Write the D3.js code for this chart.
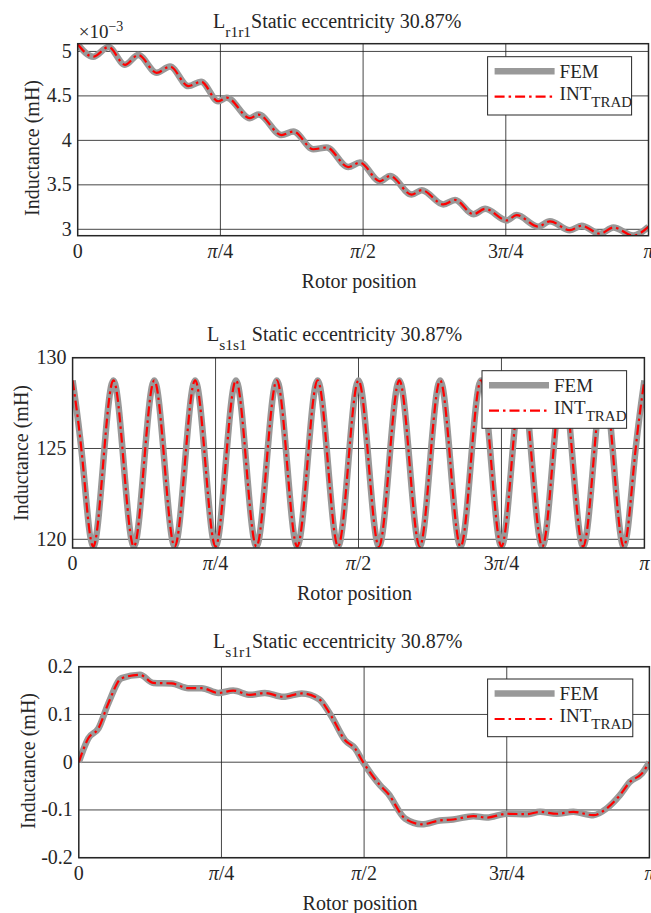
<!DOCTYPE html>
<html lang="en">
<head>
<meta charset="UTF-8">
<title>Inductances - static eccentricity</title>
<script src="https://cdn.jsdelivr.net/npm/d3@7"></script>
<style>
  body { margin: 0; background: #fff; }
  svg text { font-family: "Liberation Serif", "DejaVu Serif", serif; fill: #262626; }
</style>
</head>
<body>
<svg id="fig" width="651" height="913"></svg>
<script>
// rotor position is kept in degrees (0..180 == 0..pi)
const xTicks = [0, 45, 90, 135, 180];
const xTickLabels = ["0", "π/4", "π/2", "3π/4", "π"];

// L_r1r1 (x1e-3 mH)
const rrPos = [0, 4.9, 9.7, 14.9, 19.1, 24.9, 29.1, 34.9, 38.9, 44.3, 47.0, 54.3, 57.0, 64.3, 68.0,
  74.3, 78.5, 85.3, 89.0, 95.3, 98.5, 105.3, 108.5, 115.3, 119.0, 124.8, 128.5, 135.3, 138.4,
  145.2, 148.9, 155.2, 158.9, 164.7, 168.9, 175.2, 180];
const rrFem = [5.08, 4.94, 5.05, 4.85, 4.96, 4.76, 4.83, 4.61, 4.66, 4.44, 4.48, 4.25, 4.29, 4.06, 4.10,
  3.90, 3.92, 3.70, 3.75, 3.54, 3.60, 3.39, 3.44, 3.28, 3.33, 3.17, 3.23, 3.10, 3.16,
  3.03, 3.09, 2.99, 3.04, 2.95, 3.02, 2.93, 3.03];
const rrInt = [5.08, 4.94, 5.05, 4.85, 4.96, 4.76, 4.83, 4.61, 4.66, 4.44, 4.48, 4.25, 4.29, 4.06, 4.10,
  3.90, 3.92, 3.70, 3.75, 3.54, 3.60, 3.39, 3.44, 3.28, 3.33, 3.17, 3.23, 3.10, 3.16,
  3.03, 3.09, 2.99, 3.04, 2.95, 3.02, 2.93, 3.03];
const rrTicks = [3, 3.5, 4, 4.5, 5];
const rrTickLabels = ["3", "3.5", "4", "4.5", "5"];

// L_s1s1 (mH)
const ssPos = [0, 3.21, 6.43, 9.64, 12.86, 16.07, 19.29, 22.50, 25.71, 28.93, 32.14, 35.36, 38.57,
  41.79, 45.00, 48.21, 51.43, 54.64, 57.86, 61.07, 64.29, 67.50, 70.71, 73.93, 77.14, 80.36,
  83.57, 86.79, 90.00, 93.21, 96.43, 99.64, 102.86, 106.07, 109.29, 112.50, 115.71, 118.93,
  122.14, 125.36, 128.57, 131.79, 135.00, 138.21, 141.43, 144.64, 147.86, 151.07, 154.29,
  157.50, 160.71, 163.93, 167.14, 170.36, 173.57, 176.79, 180.00];
const ssFem = [128.75, 124.2, 119.6, 124.2, 128.75, 124.2, 119.6, 124.2, 128.75, 124.2, 119.6, 124.2,
  128.75, 124.2, 119.6, 124.2, 128.75, 124.2, 119.6, 124.2, 128.75, 124.2, 119.6, 124.2,
  128.75, 124.2, 119.6, 124.2, 128.75, 124.2, 119.6, 124.2, 128.75, 124.2, 119.6, 124.2,
  128.75, 124.2, 119.6, 124.2, 128.75, 124.2, 119.6, 124.2, 128.75, 124.2, 119.6, 124.2,
  128.75, 124.2, 119.6, 124.2, 128.75, 124.2, 119.6, 124.2, 128.75];
const ssInt = ssFem.slice(); // both curves lie on top of each other
const ssTicks = [120, 125, 130];
const ssTickLabels = ["120", "125", "130"];

// L_s1r1 (mH)
const srPos = [0, 3.0, 6.2, 9.3, 13.5, 19.3, 23.5, 29.3, 34.5, 38.8, 44.0, 48.7, 54.0, 58.7, 64.5,
  70.3, 75.8, 79.8, 84.0, 87.1, 89.7, 95.0, 97.6, 102.9, 108.2, 113.9, 118.1, 124.5, 128.7,
  135.0, 141.3, 145.5, 150.8, 156.0, 162.3, 166.5, 170.7, 173.9, 177.6, 180];
const srFem = [0, 0.050, 0.071, 0.123, 0.176, 0.183, 0.166, 0.165, 0.155, 0.155, 0.145, 0.150, 0.141,
  0.145, 0.137, 0.144, 0.132, 0.095, 0.046, 0.029, 0, -0.048, -0.066, -0.118, -0.130, -0.122,
  -0.120, -0.113, -0.116, -0.108, -0.109, -0.104, -0.108, -0.104, -0.111, -0.097, -0.069,
  -0.041, -0.024, 0];
const srInt = srFem.slice();
const srTicks = [-0.2, -0.1, 0, 0.1, 0.2];
const srTickLabels = ["-0.2", "-0.1", "0", "0.1", "0.2"];

const panels = [
  { id: "rr", sub: "r1r1", gap: "", pos: rrPos, fem: rrFem, int: rrInt, yDomain: [2.928, 5.087],
    ticks: rrTicks, tickLabels: rrTickLabels, box: [77.7, 43.7, 648.5, 235.7],
    titleX: 213, titleY: 28, ylabX: 33, ylabY: 148, legend: [487.6, 56.7, 144, 58.3], expo: true },
  { id: "ss", sub: "s1s1", gap: " ", pos: ssPos, fem: ssFem, int: ssInt, yDomain: [119.52, 130],
    ticks: ssTicks, tickLabels: ssTickLabels, box: [72.6, 357.7, 644.4, 548],
    titleX: 207, titleY: 341, ylabX: 22, ylabY: 453, legend: [482, 370.7, 144.6, 57.6] },
  { id: "sr", sub: "s1r1", gap: "", pos: srPos, fem: srFem, int: srInt, yDomain: [-0.2, 0.2],
    ticks: srTicks, tickLabels: srTickLabels, box: [78.8, 666.7, 649.4, 857.7],
    titleX: 213, titleY: 648, ylabX: 29, ylabY: 761, legend: [487.6, 679, 145.2, 57.7] }
];

const svg = d3.select("#fig");
const femColor = "#999999", intColor = "#ff0000";
const dash = "10,4,2.5,4";

function mathLabel(sel, label) {
  label.split(/(π)/).filter(s => s.length).forEach(part => {
    sel.append("tspan").text(part).style("font-style", part === "π" ? "italic" : "normal");
  });
}

panels.forEach(p => {
  const [x0, y0, x1, y1] = p.box;
  const x = d3.scaleLinear().domain([0, 180]).range([x0, x1]);
  const y = d3.scaleLinear().domain(p.yDomain).range([y1, y0]);
  const g = svg.append("g");

  g.append("clipPath").attr("id", "clip-" + p.id)
    .append("rect").attr("x", x0).attr("y", y0).attr("width", x1 - x0).attr("height", y1 - y0);

  // grid
  g.selectAll(".vg").data(xTicks.slice(1, -1)).join("line")
    .attr("x1", d => x(d)).attr("x2", d => x(d)).attr("y1", y0).attr("y2", y1)
    .attr("stroke", "#262626").attr("stroke-opacity", 0.85).attr("stroke-width", 1);
  g.selectAll(".hg").data(p.ticks).join("line")
    .attr("x1", x0).attr("x2", x1).attr("y1", d => y(d)).attr("y2", d => y(d))
    .attr("stroke", "#262626").attr("stroke-opacity", 0.85).attr("stroke-width", 1);

  // curves
  const pts = key => p.pos.map((d, i) => [d, p[key][i]]);
  const line = d3.line().x(d => x(d[0])).y(d => y(d[1]))
    .curve(p.id === "ss" ? d3.curveNatural : d3.curveMonotoneX);
  const plot = g.append("g").attr("clip-path", `url(#clip-${p.id})`);
  plot.append("path").attr("d", line(pts("fem"))).attr("fill", "none")
    .attr("stroke", femColor).attr("stroke-width", 6.5).attr("stroke-linejoin", "round");
  plot.append("path").attr("d", line(pts("int"))).attr("fill", "none")
    .attr("stroke", intColor).attr("stroke-width", 2.2).attr("stroke-dasharray", dash);

  // box
  g.append("rect").attr("x", x0).attr("y", y0).attr("width", x1 - x0).attr("height", y1 - y0)
    .attr("fill", "none").attr("stroke", "#262626").attr("stroke-width", 1.5);

  // tick labels
  g.selectAll(".xt").data(xTicks).join("text")
    .attr("x", d => x(d)).attr("y", y1 + 22).attr("text-anchor", "middle")
    .style("font-size", "20px")
    .each(function (d, i) { mathLabel(d3.select(this), xTickLabels[i]); });
  g.selectAll(".yt").data(p.ticks).join("text")
    .attr("x", x0 - 6).attr("y", d => y(d) + 6.5).attr("text-anchor", "end")
    .style("font-size", "20px")
    .text((d, i) => p.tickLabels[i]);

  // axis labels
  g.append("text").attr("x", (x0 + x1) / 2 - 4).attr("y", y1 + 52).attr("text-anchor", "middle")
    .style("font-size", "20px").text("Rotor position");
  g.append("text").attr("transform", `translate(${p.ylabX + 6},${p.ylabY}) rotate(-90)`)
    .attr("text-anchor", "middle").style("font-size", "20px").text("Inductance (mH)");

  // title
  const t = g.append("text").attr("x", p.titleX).attr("y", p.titleY).style("font-size", "20px");
  t.append("tspan").text("L");
  t.append("tspan").attr("dy", 9).style("font-size", "15.5px").text(p.sub);
  t.append("tspan").attr("dy", -9).text(p.gap + "Static eccentricity 30.87%");

  if (p.expo) {
    const e = g.append("text").attr("x", x0 + 1).attr("y", y0 - 6).style("font-size", "19px");
    e.append("tspan").text("×10");
    e.append("tspan").attr("dy", -7).style("font-size", "14px").text("−3");
  }

  // legend
  const [lx, ly, lw, lh] = p.legend;
  const lg = g.append("g");
  lg.append("rect").attr("x", lx).attr("y", ly).attr("width", lw).attr("height", lh)
    .attr("fill", "#fff").attr("stroke", "#262626").attr("stroke-width", 1);
  lg.append("line").attr("x1", lx + 7).attr("x2", lx + 67).attr("y1", ly + 14.5).attr("y2", ly + 14.5)
    .attr("stroke", femColor).attr("stroke-width", 6.5);
  lg.append("line").attr("x1", lx + 7).attr("x2", lx + 67).attr("y1", ly + 40).attr("y2", ly + 40)
    .attr("stroke", intColor).attr("stroke-width", 2.2).attr("stroke-dasharray", dash);
  lg.append("text").attr("x", lx + 72).attr("y", ly + 21).style("font-size", "19px").text("FEM");
  const it = lg.append("text").attr("x", lx + 72).attr("y", ly + 43).style("font-size", "19px");
  it.append("tspan").text("INT");
  it.append("tspan").attr("dy", 7).style("font-size", "15px").text("TRAD");
});
</script>
</body>
</html>
